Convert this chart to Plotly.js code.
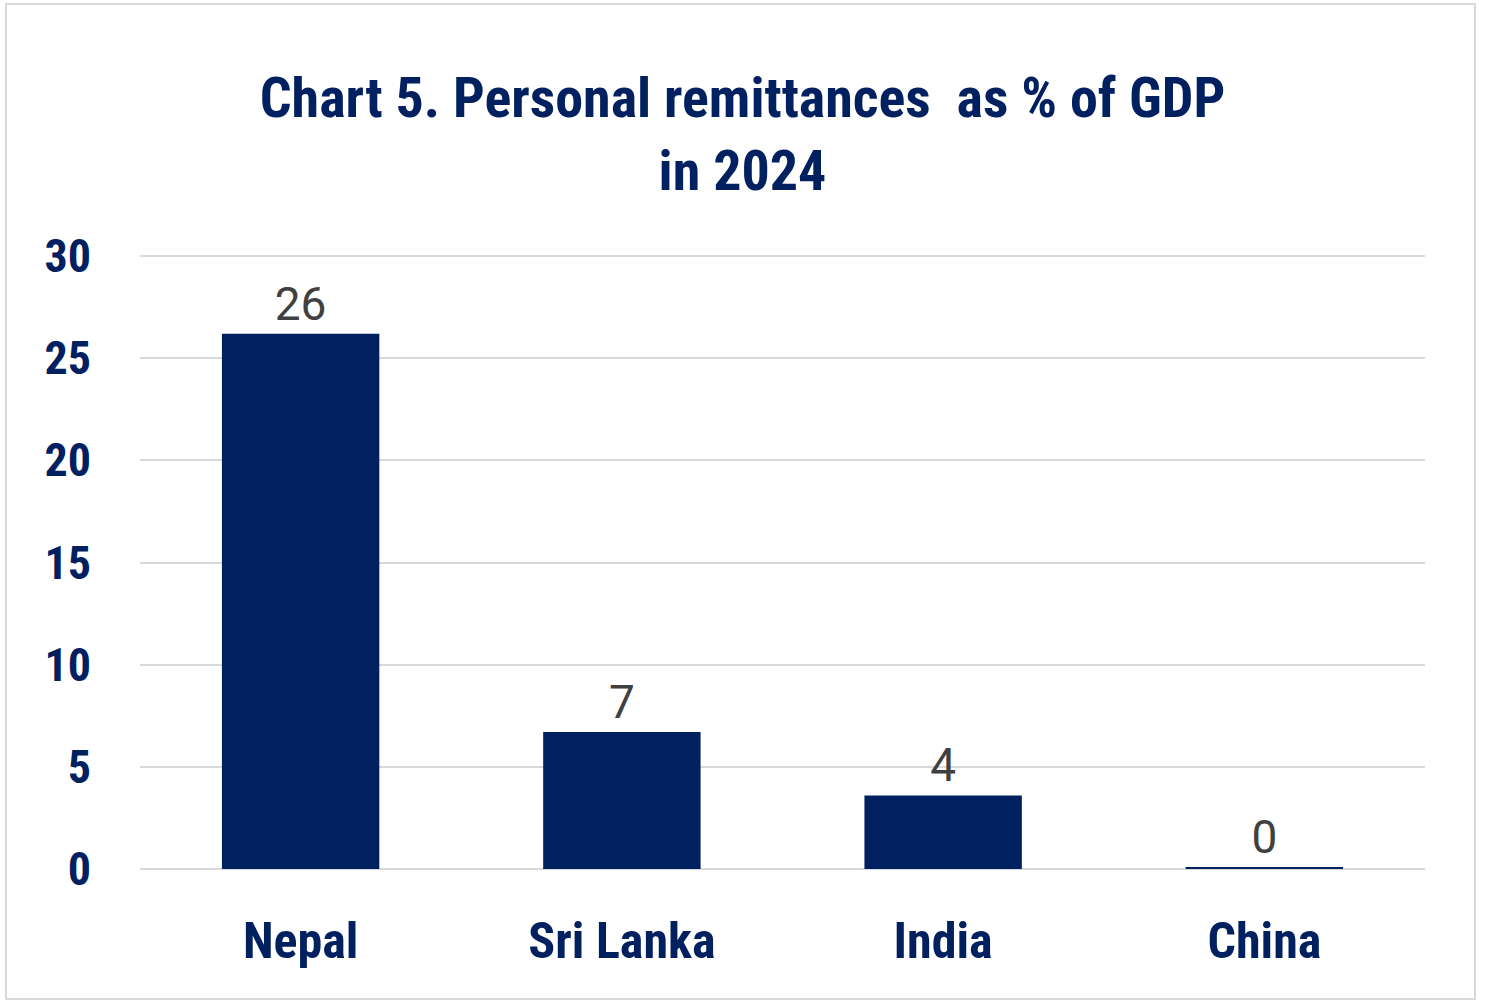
<!DOCTYPE html>
<html>
<head>
<meta charset="utf-8">
<script src="https://cdn.plot.ly/plotly-3.0.1.min.js"></script>
<style>
  html, body { margin: 0; padding: 0; background: #fff; }
  #frame { position: absolute; left: 5px; top: 3px; width: 1471px; height: 997px; border: 2px solid #d9d9d9; box-sizing: border-box; }
  #chart { position: absolute; left: 0; top: 0; width: 1485px; height: 1008px; }
</style>
</head>
<body>
<div id="frame"></div>
<div id="chart"></div>
<script>
// ── Chart 5: remesas personales como % del PIB, 2024 ──
const countries = ['Nepal', 'Sri Lanka', 'India', 'China'];
const remitPct  = [26.2, 6.7, 3.6, 0.1];
const yTicks    = [0, 5, 10, 15, 20, 25, 30];

const navy  = '#002060';
const fuente = '"Liberation Sans Narrow", "Roboto Condensed", Roboto, sans-serif';

Plotly.newPlot('chart', [{
    type: 'bar',
    x: countries,
    y: remitPct,
    marker: { color: navy },
    texttemplate: '%{y:.0f}',
    textposition: 'outside',
    cliponaxis: false,
    textfont: { family: 'Roboto, "Liberation Sans", sans-serif', size: 46, color: '#404040' },
    hoverinfo: 'x+y',
}], {
    width: 1485, height: 1008,
    paper_bgcolor: 'rgba(0,0,0,0)',
    plot_bgcolor: 'rgba(0,0,0,0)',
    margin: { l: 140, r: 60, t: 254, b: 139 },
    bargap: 0.51,
    showlegend: false,
    title: {
        text: '<b>Chart 5. Personal remittances  as % of GDP<br>in 2024</b>',
        x: 0.5, xanchor: 'center', y: 0.884, yanchor: 'middle',
        font: { family: fuente, size: 56, color: navy },
    },
    xaxis: {
        tickfont: { family: fuente, size: 50, color: navy, weight: 'bold' },
        ticks: '', showline: false, showgrid: false,
        ticklabelstandoff: 38,
    },
    yaxis: {
        range: [0, 30.1], tickvals: yTicks,
        tickfont: { family: fuente, size: 46, color: navy, weight: 'bold' },
        gridcolor: '#d9d9d9', gridwidth: 2,
        zeroline: true, zerolinecolor: '#d9d9d9', zerolinewidth: 2,
        ticks: '', ticklabelstandoff: 48,
    },
}, { displayModeBar: false });
</script>
</body>
</html>
